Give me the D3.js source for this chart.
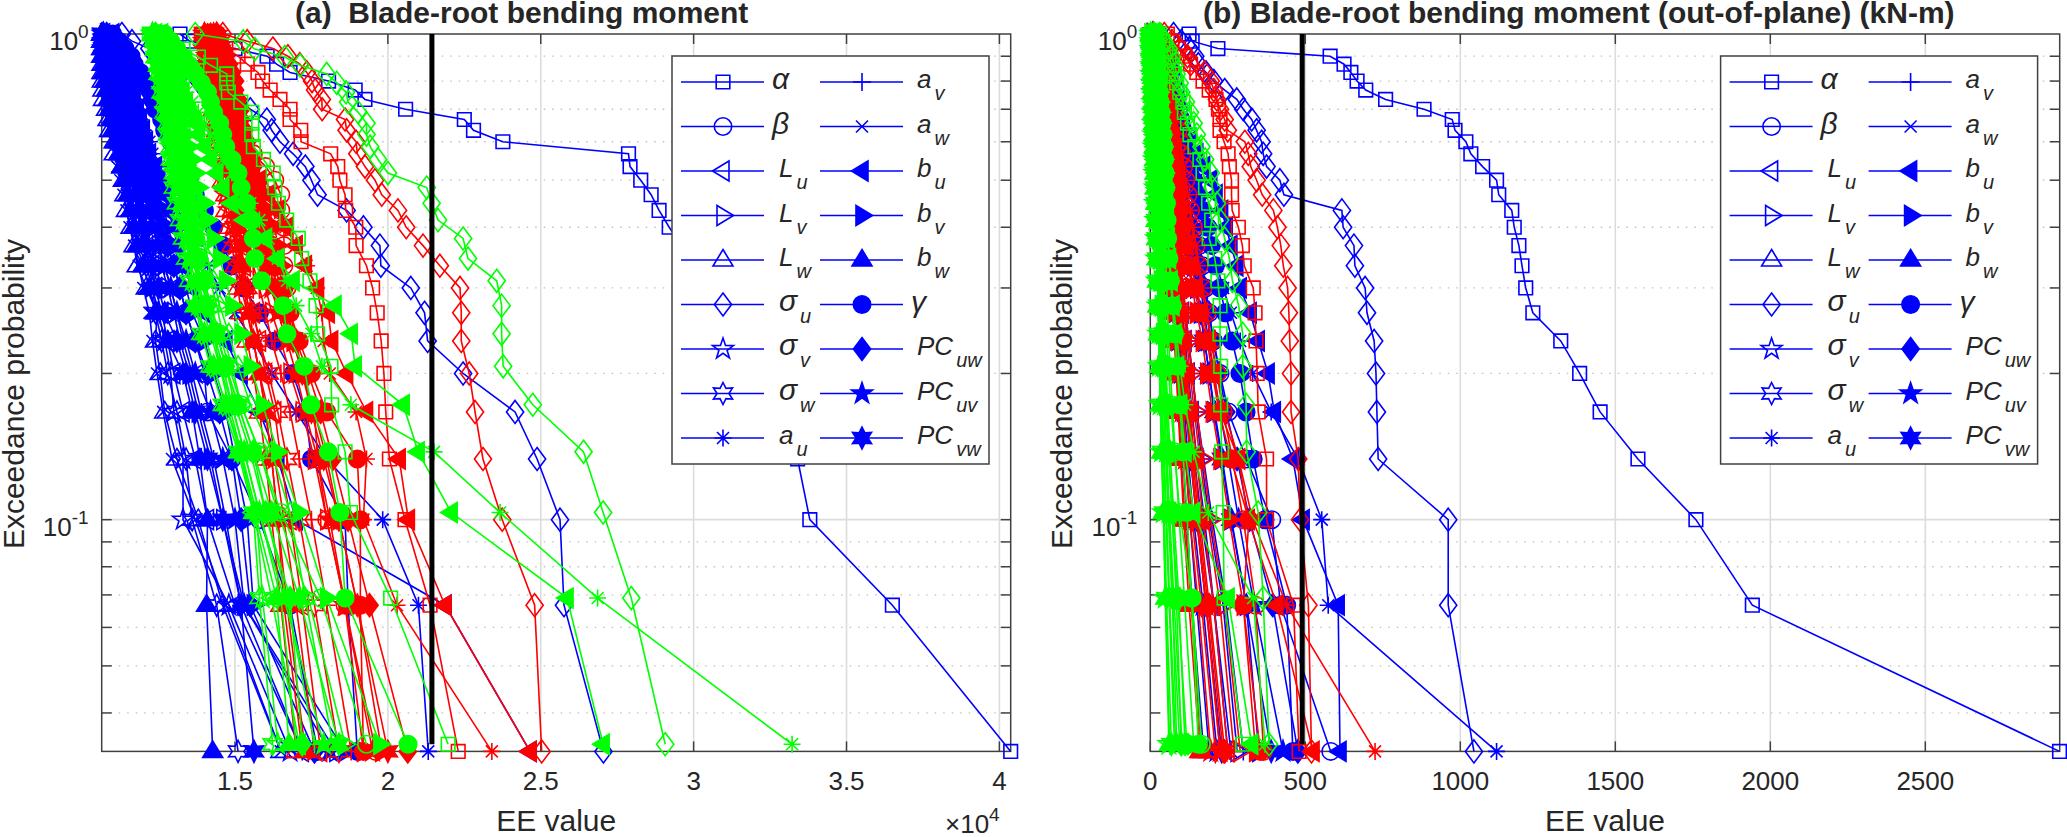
<!DOCTYPE html>
<html><head><meta charset="utf-8">
<script src="https://cdn.jsdelivr.net/npm/d3@7"></script>
<style>html,body{margin:0;padding:0;background:#fff}svg{display:block}text{font-family:"Liberation Sans",Arial,sans-serif;fill:#262626}</style>
</head><body><svg id="c" width="2067" height="837"></svg>
<script>
// Values listed from lowest exceedance rank (k=1) to highest. Panel (a) values are in units of 100 (x10^4 axis = v/100).
const seriesKeys=["alpha","beta","Lu","Lv","Lw","su","sv","sw","au","av","aw","bu","bv","bw","gamma","PCuw","PCuv","PCvw"];
const seriesColors=["#0000ff","#ff0000","#00ff00"];
const xTicksA=[150,200,250,300,350,400], xTicksB=[0,500,1000,1500,2000,2500];
const thresholdA=214.4, thresholdB=490;
// ---- panel (a) blue
const aB_alpha=[403.7,365,338,334,327,322,316,311,306,301,296,292,288.7,286.1,282.7,279.2,278.7,237.6,228,225,205.8,192.5,189.3,180.6,168,163.6,160.5,150,135.2,132];
const aB_beta=[177,168,158,149,141,140,137,134,132,130,128,126,124,122,121,120,119,118,117,116,115,114,113,112,111,110,110,109,108,108];
const aB_Lu=[172,150,141,137,133,130,128,126,124,123,122,120,119,118,117,116,115,114,113,112,111,111,110,110,109,109,108,108,107.5,107];
const aB_Lv=[183,153,146,142,138,135,132,130,128,126,125,123,122,120,119,118,117,116,115,114,113,112,111,111,110,110,109,109,108.5,108];
const aB_Lw=[165,146,138,131,127,125.5,124,124.5,121,118,117,116,114.5,114,113.5,113,110.5,110.5,109,108.5,108,107,106.8,106.6,106.5,106.5,106.4,106.4,106.4,106.4];
const aB_su=[270.5,257.6,256.3,248.8,241.6,224.6,213,212,207.5,197.7,197.4,192,186.5,177,175,173,169,164.7,162,160.4,155,149,143,138,133,128,125,122,116.3,113];
const aB_sv=[168,148,133,133,130,129,127,125,123,122,120,119,118,117,116,115,114,113,112,111,110,110,109,109,108,108,108,107,107,107];
const aB_sw=[151,144,136,134,131,128,126,124,123,121,120,118,117,116,115,114,113,112,111,111,110,109,109,108,108,108,107,107,107,106.8];
const aB_au=[213.2,210,198.3,180,170,162,156,150,145,141,137,134,131,129,127,125,123,122,120,118,116,115,113,112,111,110,109,109,108,108];
const aB_av=[172,152,147,143,139,136,133,131,129,127,125,124,122,121,120,119,118,117,116,115,114,113,112,111,110,110,109,109,108,108];
const aB_aw=[165,147,137,129.4,126.5,124.5,123,122,120,118.5,117,115.5,114.5,113.5,112.5,111.5,111,110.5,110,109.5,109,108.5,108,107.5,107.3,107,106.8,106.6,106.5,106.4];
const aB_bu=[246.5,218.7,170,164,158,152,147,140,136,133,131,130,128,127,125,124,122,121,120,119,118,117,116,115,114,113,112,111,110,110];
const aB_bv=[186,156,154,150,147,143,140,136,134,132,130,128,127,125,124,122,121,120,119,118,117,116,115,114,113,112,111,110,109,109];
const aB_bw=[142.7,140.7,141,138.5,136,133,128,124,122,120,118,117,116,115,114,113,112,111,110,109.5,109,108.5,108,107.5,107,107,106.8,106.6,106.5,106.4];
const aB_gamma=[190,187,186,175,173,169,163,158,153,149,146,143,140,137,135,133,131,129,127,126,124,123,122,120,119,117,116,114,112,110];
const aB_PCuw=[176,155,152,149,145,141,137,134,132,130,128,126,125,124,122,121,120,119,118,117,116,115,113,112,111,110.5,110,109,108.5,108];
const aB_PCuv=[181,153,150,146,142,137,134,131,129,127,125,123,122,121,120,119,118,117,116,115,114,113,112,111,110,109.5,109,108,107.5,107];
const aB_PCvw=[156.2,152,146,141,137,134,131,127,125,123,121,120,119,118,117,116,115,114,113,112,111,110.5,110,109,108.5,108,107.5,107,107,106.5];
// ---- panel (a) red
const aR_alpha=[223,213.8,205.6,200.5,199.3,198.7,197.8,196.5,195,193,189.6,189.5,186.2,186,184.3,183.6,181.3,171.6,171.5,168,168,164.7,161.5,159,157.5,154,151,147,143,139];
const aR_beta=[196,186,180,177,176,172,170,168,167,166,166,166,165,165,163,160,156,153,150,149,148,147,146,145,144,143,142,142,141,141];
const aR_Lu=[178,172,168,165,163,160,158,156,154,153,152,151,150,149,148,147,147,146,146,145,145,144,144,143,143,142,142,141,141,140];
const aR_Lv=[192,186,180,176,172,168,165,162,160,158,156,155,154,153,152,151,150,149,149,148,147,147,146,145,145,144,144,143,142,142];
const aR_Lw=[170,165,162,160,158,156,154,152,151,150,149,148,147,147,146,146,145,145,144,144,143,143,143,142,142,141,141,141,140,140];
const aR_su=[250.3,248,237.4,231.1,228.5,226.6,224,224,223.6,217,211.5,206,203.3,198,195.8,192.5,190,189.6,186.5,186,178.5,178.4,176.2,175.2,173.5,171.2,167.3,162.4,154,146];
const aR_sv=[176,170,166,163,161,158,156,154,152,151,150,149,148,147,146,146,145,145,144,144,143,143,142,142,141,141,141,140,140,140];
const aR_sw=[184,176,171,167,164,161,158,156,154,152,151,150,149,148,147,147,146,146,145,145,144,144,143,143,142,142,141,141,141,140];
const aR_au=[234,203,192,193,189.6,181,179,178.4,176.7,173.4,170,166.5,163,160,157,155,153,151,149.5,148,147,146,145,144.5,144,143,143,142,141.5,141];
const aR_av=[188,180,175,171,168,165,162,160,158,156,155,153,152,151,150,149,149,148,147,147,146,146,145,145,144,144,143,143,142,142];
const aR_aw=[172,166,164,162,160,158,156,154,153,152,151,150,149,148,148,147,147,146,146,145,145,144,144,143,143,142,142,142,141,141];
const aR_bu=[246.5,218.7,206.7,203.7,193,186.5,181.6,180.5,177,173,170,167,164,161,158,156,154,152,150,149,148,147,146,145,144.5,144,143.5,143,142.5,142];
const aR_bv=[198,190,184,180,176,172,169,167,166,165,164,163,161,159,157,155,154,152,151,150,149,148,148,147,146,146,145,144,143,143];
const aR_bw=[173,167,164,162,160,158,156,155,153,152,152,151,151,150,150,149,148,147,147,146,146,146,145,145,144,144,143,143,142,142];
const aR_gamma=[192,191,191,190,180,175,171,168,166,164,162,160,158,156,155,154,153,152,151,150,150,149,149,148,148,147,146,145,144,144];
const aR_PCuw=[206.5,194,187,182,178,174,170,167,165,163,161,160,159,158,157,156,155,154,153,152,152,151,150,150,149,148,147,146,145,144];
const aR_PCuv=[195,186,181,177,173,170,167,164,162,160,158,157,155,154,153,152,151,150,150,149,148,148,147,147,146,146,145,145,144,144];
const aR_PCvw=[200,190,184,179,175,172,169,166,163,161,159,157,156,154,153,152,151,151,150,149,149,148,147,147,146,146,145,145,144,143];
// ---- panel (a) green (29 points)
const aG_alpha=[219.7,200.9,187.8,186,181.6,181.4,177,176.5,174.5,171.8,170.7,166.9,164.2,163,162.5,159.3,156,155.5,155.5,155.5,151.9,147.8,147.3,147.3,142,138,133,128,122];
const aG_beta=[193,178,165,158,152,148,145,142,140,138,137,136,135,134,133,132,132,131,130,130,129,129,128,128,127,127,126,125,125];
const aG_Lu=[171,162,156,152,148,145,143,141,139,137,136,135,134,133,132,132,131,130,130,129,128,128,127,127,126,126,125,125,124];
const aG_Lv=[186,174,164,158,152,149,146,144,142,141,139,138,137,136,135,134,133,132,131,130,130,129,128,128,127,127,126,125,125];
const aG_Lw=[182,173,168,162,155,151,148,145,143,141,140,138,137,136,135,134,133,132,132,131,130,129,129,128,127,127,126,125,124];
const aG_su=[290.7,279.6,270.4,264,247.4,237.7,237.2,237.2,235.6,226.2,224.6,216.4,214.3,212.7,200,196.8,194.2,193,193,190.3,187,186.3,183.3,180,171.3,166.3,156.5,152.7,137];
const aG_sv=[164,159,157,152,147,143,140,138,136,135,134,133,132,131,130,130,129,129,128,128,127,127,126,126,125,125,124,124,123];
const aG_sw=[162.3,158,156,151,146,142,139,137,135,134,133,132,131,130,130,129,129,128,128,127,127,126,126,125,125,124,124,124,123];
const aG_au=[332.2,268.6,236.7,215.1,187.9,178.4,175,170,167,164,161,158,155,152,149,146,144,142,140,138,136,134,132,131,130,129,128,127,126];
const aG_av=[176,167,160,155,150,147,144,142,140,138,137,136,135,134,133,132,132,131,130,130,129,128,128,127,127,126,126,125,125];
const aG_aw=[170,165,158,153,149,146,143,141,139,137,136,135,134,133,132,131,131,130,129,129,128,128,127,127,126,126,125,124,124];
const aG_bu=[270.4,258.6,220.7,209.9,205,189.3,188,182.7,169,164,160,153,149,146,144,142,140,138,137,135,134,133,132,131,130,129,128,127,126];
const aG_bv=[197.4,180,171,164,159,155,152,149,147,145,143,141,140,138,137,136,135,134,133,132,131,130,130,129,128,127,127,126,126];
const aG_bw=[167.7,163.6,156.5,151.5,147,143,140,137,137.5,137,136,135,133,132,131,130,130,129,129,128,128,127,127,126,125,125,124,124,123];
const aG_gamma=[206.6,186,184.3,180.5,174.8,172.6,167,165.7,158.7,156.5,156,155.5,153.8,152,151,149,147,146,145,143,142,141,139,137,135,133,131,129,127];
const aG_PCuw=[172,168,160,156,151,147,144,141,140,138,137,136,135,134,133,132,131,131,130,129,129,128,127,127,126,126,125,125,124];
const aG_PCuv=[179,166,158,153,149,145,142,139,138,136,135,134,133,132,131,131,130,130,129,128,128,127,127,126,125,125,124,124,123];
const aG_PCvw=[184,171,162,156,151,147,144,140,138,136,135,134,133,132,132,131,130,130,129,129,128,127,127,126,126,125,125,124,124];
// ---- panel (b) blue
const bB_alpha=[2933,1942,1760,1573,1451,1385,1324,1234,1211,1199,1189,1174,1166,1124,1117,1072,1034,1018,983,974,883,759,695,667,647,625,580,218,135,125];
const bB_beta=[582,420,392,310,252,225,204,190,178,168,158,150,142,135,128,122,116,110,104,98,92,86,80,74,68,62,55,48,38,28];
const bB_Lu=[250,205,175,150,135,122,112,104,97,90,84,79,74,70,66,62,58,54,50,47,43,40,37,34,30,27,23,19,15,10];
const bB_Lv=[280,235,190,165,148,135,122,113,105,98,92,86,80,75,71,66,62,58,54,50,46,43,40,36,33,29,25,21,17,12];
const bB_Lw=[190,150,128,115,102,94,86,80,74,69,64,60,56,52,49,46,43,40,37,34,32,29,27,24,22,20,17,14,10,6];
const bB_su=[1044,961,961,735,731,728,722,699,693,660,657,622,618,431,418,375,364,359,343,327,300,279,240,205,180,155,145,125,100,75];
const bB_sv=[215,170,140,122,110,100,92,85,79,74,69,65,61,57,53,50,47,44,41,38,35,33,30,28,25,23,20,16,12,8];
const bB_sw=[230,180,150,130,116,105,96,88,82,76,71,67,63,59,55,52,48,45,42,39,36,34,31,28,26,23,20,17,13,9];
const bB_au=[1117,574,553,477,390,330,290,260,235,215,198,183,170,158,148,138,128,120,112,104,96,88,80,72,65,58,50,42,32,22];
const bB_av=[300,245,200,172,150,135,124,114,106,99,93,87,82,77,72,68,64,60,56,52,48,45,41,38,34,31,27,23,18,12];
const bB_aw=[260,205,165,142,126,114,104,96,89,83,78,73,68,64,60,56,52,49,46,42,39,36,33,30,27,24,21,17,13,9];
const bB_bu=[612,606,493,460,400,380,348,322,290,279,260,245,230,212,195,172,150,125,105,80,68,58,50,44,38,33,28,22,16,10];
const bB_bv=[350,310,260,230,205,190,175,162,150,140,132,122,112,100,90,80,72,65,58,52,46,40,36,32,28,25,21,17,13,9];
const bB_bw=[172,135,118,106,96,88,82,76,71,66,62,58,55,52,49,46,43,40,37,35,32,30,27,25,22,20,17,14,11,7];
const bB_gamma=[460,440,370,332,309,289,264,242,225,210,197,185,170,155,140,125,110,95,85,70,60,52,45,40,35,30,25,20,15,10];
const bB_PCuw=[476,395,320,280,245,222,204,188,174,162,151,135,120,105,92,82,74,67,60,54,48,43,38,34,30,26,22,18,14,10];
const bB_PCuv=[428,335,285,252,225,205,188,174,162,151,138,122,108,96,86,78,70,64,58,52,46,41,37,33,29,25,21,17,13,9];
const bB_PCvw=[390,310,262,232,208,190,175,162,151,141,128,114,102,92,83,75,68,62,56,50,45,40,36,32,28,24,20,16,12,8];
// ---- panel (b) red
const bR_alpha=[480,462,375,375,348,345,341,338,332,303,297,284,264,262,262,255,251,238,225,225,220,212,190,170,150,130,110,90,70,55];
const bR_beta=[365,340,300,265,235,215,198,183,170,158,148,139,130,122,115,108,102,96,90,85,80,75,70,65,60,54,48,41,33,24];
const bR_Lu=[250,205,170,150,132,120,110,102,96,90,84,79,75,70,66,62,58,55,52,49,46,43,40,37,34,31,27,23,18,12];
const bR_Lv=[290,240,195,170,150,135,124,114,106,99,93,87,82,77,72,68,64,60,56,53,49,46,43,40,36,33,29,24,19,13];
const bR_Lw=[165,132,112,100,92,85,79,74,69,65,61,58,54,51,48,45,42,40,37,35,33,30,28,26,23,21,18,15,12,8];
const bR_su=[520,510,483,477,454,454,450,447,443,429,421,410,397,361,343,324,316,305,250,240,225,215,205,195,175,130,120,95,70,45];
const bR_sv=[195,155,128,113,102,93,86,80,75,70,66,62,58,55,51,48,45,42,39,37,34,32,29,27,24,22,19,16,12,8];
const bR_sw=[210,165,135,118,106,97,89,83,77,72,68,64,60,56,53,50,47,44,41,38,35,33,30,28,25,23,20,16,13,9];
const bR_au=[725,440,330,285,240,214,196,180,166,155,145,136,128,120,113,106,100,94,88,83,78,73,68,63,58,53,47,40,32,22];
const bR_av=[270,225,185,160,142,128,118,109,101,95,89,84,79,74,70,66,62,58,55,51,48,44,41,38,34,31,27,23,18,12];
const bR_aw=[225,180,150,130,116,106,97,90,84,78,73,69,65,61,57,54,50,47,44,41,38,35,33,30,27,24,21,17,13,9];
const bR_bu=[525,408,316,285,225,205,190,165,148,132,118,108,98,90,82,76,70,65,59,54,50,46,42,38,34,30,26,22,18,14];
const bR_bv=[340,300,255,225,200,182,168,150,135,122,110,100,92,85,78,72,66,61,56,52,48,44,40,36,32,28,24,20,16,12];
const bR_bw=[160,125,108,98,90,84,78,73,69,65,61,57,54,51,48,45,43,40,38,35,33,31,28,26,24,21,18,15,12,8];
const bR_gamma=[355,300,318,260,222,200,183,160,140,125,112,104,96,88,80,74,68,62,57,53,49,45,41,37,33,29,25,21,17,13];
const bR_PCuw=[240,190,160,142,128,116,107,99,92,86,81,76,72,68,64,60,56,53,50,47,44,41,38,35,32,29,25,21,17,11];
const bR_PCuv=[225,180,150,134,120,110,102,95,88,82,77,73,69,65,61,58,54,51,48,45,42,39,36,33,30,27,24,20,15,10];
const bR_PCvw=[235,186,155,138,124,113,104,97,90,84,79,75,70,66,62,59,55,52,49,46,43,40,37,34,31,28,25,21,16,11];
// ---- panel (b) green (29 points)
const bG_alpha=[298,238,235,230,227,227,225,225,218,208,190,198,188,178,170,160,144,128,120,110,105,95,85,78,70,60,50,40,30];
const bG_beta=[165,135,95,78,66,58,52,47,43,40,37,34,32,29,27,25,23,21,19,17,15,14,12,11,9,8,6,4,2];
const bG_Lu=[102,76,62,52,45,40,36,33,30,28,26,24,22,20,19,17,16,14,13,12,11,10,9,8,7,6,5,3,1.5];
const bG_Lv=[118,88,70,58,50,44,40,36,33,31,28,26,24,22,21,19,18,16,15,14,12,11,10,9,8,7,6,4,2];
const bG_Lw=[82,62,52,44,38,34,31,28,26,24,22,20,19,17,16,15,14,13,12,10,9,8,7,6,5,4,3,2,1];
const bG_su=[383,364,348,311,309,298,298,285,265,255,240,225,215,200,195,177,165,150,140,128,115,100,95,85,78,70,60,45,30];
const bG_sv=[60,48,42,36,32,29,27,25,23,21,20,18,17,16,15,13,12,11,10,9,8,7,6,5,5,4,3,2,1];
const bG_sw=[68,52,45,38,34,31,28,26,24,22,21,19,18,16,15,14,13,12,11,10,9,8,7,6,5,4,3,2,1];
const bG_au=[370,332,187,140,112,96,84,75,68,62,56,51,47,43,39,36,33,30,27,25,22,20,18,16,14,12,9,7,4];
const bG_av=[95,70,58,49,43,38,34,31,28,26,24,22,21,19,18,16,15,14,13,11,10,9,8,7,6,5,4,3,1.5];
const bG_aw=[78,60,50,42,37,33,30,27,25,23,21,20,18,17,16,14,13,12,11,10,9,8,7,6,5,4,3,2,1];
const bG_bu=[327,251,140,112,98,88,80,73,67,62,58,55,52,50,48,46,44,41,38,35,32,30,27,24,22,20,18,16,15];
const bG_bv=[140,110,92,80,71,64,58,55,52,50,48,47,46,45,44,42,40,37,34,32,30,27,25,23,21,19,17,15,14];
const bG_bw=[62,50,42,37,33,30,27,25,24,23,22,21,20,19,18,17,16,15,14,13,12,11,10,9,8,7,6,5,4];
const bG_gamma=[155,133,118,105,95,86,78,71,65,60,56,54,52,50,48,46,44,41,38,35,32,29,26,24,22,20,18,17,16];
const bG_PCuw=[100,84,70,60,53,48,44,42,41,40,39,38,37,36,35,33,31,30,28,26,25,23,21,20,18,16,15,14,13];
const bG_PCuv=[85,72,60,52,46,41,37,34,32,30,29,28,27,26,25,24,23,22,21,20,18,17,16,15,14,13,12,11,10];
const bG_PCvw=[112,92,75,64,56,50,45,41,38,36,35,34,33,32,31,30,28,27,25,24,22,21,20,18,17,15,14,13,12];

const panelAData=[
 [aB_alpha,aB_beta,aB_Lu,aB_Lv,aB_Lw,aB_su,aB_sv,aB_sw,aB_au,aB_av,aB_aw,aB_bu,aB_bv,aB_bw,aB_gamma,aB_PCuw,aB_PCuv,aB_PCvw],
 [aR_alpha,aR_beta,aR_Lu,aR_Lv,aR_Lw,aR_su,aR_sv,aR_sw,aR_au,aR_av,aR_aw,aR_bu,aR_bv,aR_bw,aR_gamma,aR_PCuw,aR_PCuv,aR_PCvw],
 [aG_alpha,aG_beta,aG_Lu,aG_Lv,aG_Lw,aG_su,aG_sv,aG_sw,aG_au,aG_av,aG_aw,aG_bu,aG_bv,aG_bw,aG_gamma,aG_PCuw,aG_PCuv,aG_PCvw]];
const panelBData=[
 [bB_alpha,bB_beta,bB_Lu,bB_Lv,bB_Lw,bB_su,bB_sv,bB_sw,bB_au,bB_av,bB_aw,bB_bu,bB_bv,bB_bw,bB_gamma,bB_PCuw,bB_PCuv,bB_PCvw],
 [bR_alpha,bR_beta,bR_Lu,bR_Lv,bR_Lw,bR_su,bR_sv,bR_sw,bR_au,bR_av,bR_aw,bR_bu,bR_bv,bR_bw,bR_gamma,bR_PCuw,bR_PCuv,bR_PCvw],
 [bG_alpha,bG_beta,bG_Lu,bG_Lv,bG_Lw,bG_su,bG_sv,bG_sw,bG_au,bG_av,bG_aw,bG_bu,bG_bv,bG_bw,bG_gamma,bG_PCuw,bG_PCuv,bG_PCvw]];

// marker shapes
const poly=pts=>"M"+pts.map(p=>p[0].toFixed(2)+","+p[1].toFixed(2)).join("L")+"Z";
function starPts(R,r,n,rot){const a=[];for(let i=0;i<2*n;i++){const t=rot+i*Math.PI/n,q=i%2?r:R;a.push([q*Math.sin(t),-q*Math.cos(t)]);}return a;}
const SHAPES={
 sq:poly([[-6.8,-6.8],[6.8,-6.8],[6.8,6.8],[-6.8,6.8]]),
 ci:"M8.7,0A8.7,8.7 0 1,1 -8.7,0A8.7,8.7 0 1,1 8.7,0Z",
 tl:poly([[-10.5,0],[6,-10],[6,10]]),
 tr:poly([[10.5,0],[-6,-10],[-6,10]]),
 tu:poly([[0,-10.5],[10,6],[-10,6]]),
 di:poly([[0,-11.5],[8.6,0],[0,11.5],[-8.6,0]]),
 pe:poly(starPts(11,4.3,5,0)),
 he:poly(starPts(11,5.9,6,0)),
 st:"M-8.5,0H8.5M0,-8.5V8.5M-6,-6L6,6M-6,6L6,-6",
 pl:"M-9,0H9M0,-9V9",
 xx:"M-6,-6L6,6M-6,6L6,-6"
};
const markerDefs=[["sq",0],["ci",0],["tl",0],["tr",0],["tu",0],["di",0],["pe",0],["he",0],["st",0],["pl",0],["xx",0],["tl",1],["tr",1],["tu",1],["ci",1],["di",1],["pe",1],["he",1]];

const svg=d3.select("#c");
const LW=1.6;
const legendCols=[
 [[0,"α"],[1,"β"],[2,"L","u"],[3,"L","v"],[4,"L","w"],[5,"σ","u"],[6,"σ","v"],[7,"σ","w"],[8,"a","u"]],
 [[9,"a","v"],[10,"a","w"],[11,"b","u"],[12,"b","v"],[13,"b","w"],[14,"γ"],[15,"PC","uw"],[16,"PC","uv"],[17,"PC","vw"]]];

function drawPanel(c){
 const x=d3.scaleLinear().domain(c.xDomain).range([c.left,c.right]);
 const y=d3.scaleLog().domain([1/30,1]).range([c.bottom,c.top]);
 const g=svg.append("g");
 // grid
 const minors=[];[0.01,0.1].forEach(d=>{for(let m=2;m<=9;m++){const v=d*m;if(v>1/30)minors.push(v);}});
 g.selectAll(".mg").data(minors).join("line").attr("x1",c.left).attr("x2",c.right).attr("y1",d=>y(d)).attr("y2",d=>y(d))
  .attr("stroke","#c0c0c0").attr("stroke-width",1.3).attr("stroke-dasharray","1.5 7");
 g.append("line").attr("x1",c.left).attr("x2",c.right).attr("y1",y(0.1)).attr("y2",y(0.1)).attr("stroke","#dcdcdc").attr("stroke-width",1.6);
 g.selectAll(".vg").data(c.xTicks.filter(d=>d>c.xDomain[0])).join("line").attr("x1",d=>x(d)).attr("x2",d=>x(d)).attr("y1",c.top).attr("y2",c.bottom)
  .attr("stroke","#dcdcdc").attr("stroke-width",1.6);
 // box & ticks
 const ax="#404040";
 g.append("rect").attr("x",c.left).attr("y",c.top).attr("width",c.right-c.left).attr("height",c.bottom-c.top).attr("fill","none").attr("stroke",ax).attr("stroke-width",1.5);
 c.xTicks.forEach(t=>{[[c.bottom,-10],[c.top,10]].forEach(([yy,d])=>g.append("line").attr("x1",x(t)).attr("x2",x(t)).attr("y1",yy).attr("y2",yy+d).attr("stroke",ax).attr("stroke-width",1.5));
  g.append("text").attr("x",x(t)).attr("y",c.bottom+39).attr("text-anchor","middle").attr("font-size",26).text(c.xFmt(t));});
 minors.concat([0.1]).forEach(v=>{[[c.left,10],[c.right,-10]].forEach(([xx,d])=>g.append("line").attr("x1",xx).attr("x2",xx+d).attr("y1",y(v)).attr("y2",y(v)).attr("stroke",ax).attr("stroke-width",1.5));});
 [[1,"0"],[0.1,"-1"]].forEach(([v,e])=>{const t=g.append("text").attr("x",c.left-13).attr("y",y(v)+16).attr("text-anchor","end").attr("font-size",26);
  t.append("tspan").text("10");t.append("tspan").attr("font-size",19).attr("dy",-12).text(e);});
 // labels
 g.append("text").attr("x",(c.left+c.right)/2).attr("y",831).attr("text-anchor","middle").attr("font-size",30).text("EE value");
 g.append("text").attr("transform",`translate(${c.left-78},394) rotate(-90)`).attr("text-anchor","middle").attr("font-size",30).text("Exceedance probability");
 g.append("text").attr("x",c.titleX).attr("y",23).attr("font-size",c.titleSize).attr("font-weight","bold").style("white-space","pre").attr("fill","#111").text(c.title);
 if(c.exp){const t=g.append("text").attr("x",945).attr("y",833).attr("font-size",26);t.append("tspan").text("×10");t.append("tspan").attr("font-size",19).attr("dy",-12).text("4");}
 // series
 const line=d3.line().x(d=>x(d.v)).y(d=>y(d.p));
 c.data.forEach((group,ci)=>{const col=seriesColors[ci];
  group.forEach((vals,si)=>{
   const pts=vals.map((v,i)=>({v,p:(i+1)/vals.length}));
   const [shape,filled]=markerDefs[si];
   const s=g.append("g");
   s.append("path").attr("d",line(pts)).attr("fill","none").attr("stroke",col).attr("stroke-width",LW);
   s.selectAll("path.m").data(pts).join("path").attr("class","m").attr("d",SHAPES[shape])
    .attr("transform",d=>`translate(${x(d.v)},${y(d.p)})`)
    .attr("fill",filled?col:"none").attr("stroke",col).attr("stroke-width",LW);
  });});
 // threshold
 const thr=[{v:c.threshold,p:1/29},{v:c.threshold,p:1}];
 g.append("path").attr("d",line(thr)).attr("stroke","#000").attr("stroke-width",5).attr("fill","none");
 // legend
 const L=c.legend;
 g.append("rect").attr("x",L.x).attr("y",L.y).attr("width",L.w).attr("height",L.h).attr("fill","#fff").attr("stroke",ax).attr("stroke-width",1.5);
 legendCols.forEach((col,ci)=>{const x0=L.x+(ci?148:9);
  col.forEach((e,ri)=>{const yy=L.y+26+ri*44.5;const [si,main,sub]=e;const [shape,filled]=markerDefs[si];
   g.append("line").attr("x1",x0).attr("x2",x0+83).attr("y1",yy).attr("y2",yy).attr("stroke","#0000ff").attr("stroke-width",LW);
   g.append("path").attr("d",SHAPES[shape]).attr("transform",`translate(${x0+42},${yy})`).attr("fill",filled?"#0000ff":"none").attr("stroke","#0000ff").attr("stroke-width",LW);
   const greek=/[αβγσ]/.test(main);
   const tx=x0+83+(ci?(main==="γ"?8:14):(sub?15:8));
   const t=g.append("text").attr("x",tx).attr("y",yy+(sub?6:7)).attr("font-size",greek?30:26).attr("font-style","italic").attr("fill","#111")
     .attr("font-family",greek?"'Liberation Serif',serif":"'Liberation Sans',Arial,sans-serif");
   t.append("tspan").text(main);
   if(sub)t.append("tspan").attr("font-size",20).attr("dy",12).attr("dx",3).attr("font-family","'Liberation Sans',Arial,sans-serif").text(sub);
  });});
}
drawPanel({left:101.7,right:1010.7,top:34,bottom:751.4,xDomain:[106.4,403.7],xTicks:xTicksA,xFmt:d=>d3.format("~g")(d/100),threshold:thresholdA,data:panelAData,
 title:"(a)  Blade-root bending moment",titleX:295,titleSize:30,exp:true,legend:{x:672,y:56,w:317,h:408}});
drawPanel({left:1150.3,right:2059.7,top:34,bottom:751.4,xDomain:[0,2933.5],xTicks:xTicksB,xFmt:d=>String(d),threshold:thresholdB,data:panelBData,
 title:"(b) Blade-root bending moment (out-of-plane) (kN-m)",titleX:1203,titleSize:30,exp:false,legend:{x:1720.6,y:56,w:317,h:408}});
</script></body></html>
